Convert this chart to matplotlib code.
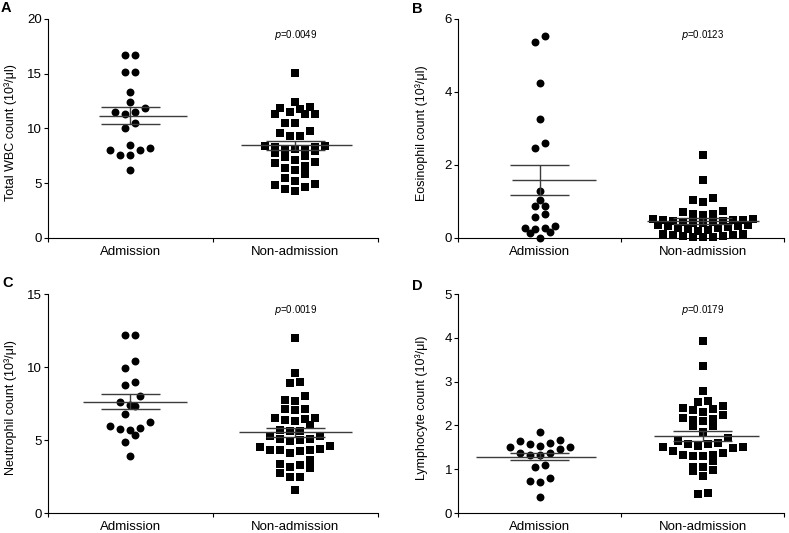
import numpy as np
import matplotlib.pyplot as plt

plt.rcParams['font.family'] = ['Liberation Sans', 'DejaVu Sans']

groups = ['Admission', 'Non-admission']

# values (10^3/ul)
wbc_adm = [16.72, 16.72, 15.19, 15.19, 13.31, 12.43, 11.91, 11.55, 11.55, 11.34,
           10.49, 10.0, 8.51, 8.05, 8.05, 8.21, 7.6, 7.6, 6.23]
wbc_non = [15.05, 12.46, 12.0, 11.76, 11.86, 11.34, 11.34, 11.55, 11.34, 10.54,
           10.54, 9.79, 9.58, 9.27, 9.27, 8.30, 8.12, 7.9, 8.42, 8.42,
           8.12, 8.12, 8.30, 7.51, 7.44, 7.75, 6.9, 6.53, 6.84, 7.14,
           6.23, 6.38, 5.86, 5.47, 4.95, 5.16, 4.65, 4.31, 4.47, 4.86]

eos_adm = [5.53, 5.37, 4.24, 3.26, 2.60, 2.46, 1.29, 1.05, 0.88, 0.88,
           0.66, 0.57, 0.27, 0.16, 0.34, 0.14, 0.25, 0.27, 0.0]
eos_non = [2.28, 1.60, 1.05, 0.99, 1.09, 0.75, 0.66, 0.63, 0.66, 0.70,
           0.40, 0.42, 0.44, 0.45, 0.46, 0.47, 0.48, 0.49, 0.50, 0.52, 0.53,
           0.20, 0.22, 0.24, 0.26, 0.28, 0.30, 0.32, 0.33, 0.35, 0.36,
           0.02, 0.03, 0.04, 0.05, 0.06, 0.08, 0.09, 0.10, 0.12]

neu_adm = [12.21, 12.21, 10.38, 9.93, 8.99, 8.79, 7.99, 7.58, 7.42, 7.30,
           6.80, 6.23, 5.82, 5.66, 5.75, 5.93, 5.36, 4.88, 3.90]
neu_non = [11.99, 9.59, 8.97, 8.90, 7.99, 7.76, 7.69, 7.03, 7.14, 7.14,
           6.27, 6.48, 6.34, 6.44, 6.48, 6.05, 5.70, 5.65, 5.60, 5.25,
           5.07, 4.90, 4.97, 5.07, 5.25, 4.56, 4.40, 4.34, 4.22, 4.11,
           4.34, 4.34, 4.52, 3.60, 3.31, 3.36, 3.08, 3.15, 2.74, 2.47,
           2.47, 1.55]

lym_adm = [1.85, 1.66, 1.64, 1.60, 1.58, 1.51, 1.51, 1.54, 1.46, 1.37,
           1.37, 1.33, 1.33, 1.05, 1.09, 0.74, 0.80, 0.70, 0.37]
lym_non = [3.93, 3.36, 2.79, 2.55, 2.53, 2.38, 2.36, 2.40, 2.44, 2.24,
           2.30, 2.15, 2.13, 2.17, 2.09, 1.98, 1.98, 1.86, 1.71, 1.65,
           1.58, 1.54, 1.51, 1.48, 1.51, 1.58, 1.60, 1.41, 1.33, 1.31,
           1.31, 1.33, 1.38, 1.18, 1.06, 1.06, 0.95, 0.99, 0.85, 0.44, 0.46]

# mean and SEM as drawn in the picture
wbc_mean, wbc_sem = [11.16, 8.45], [0.76, 0.40]
eos_mean, eos_sem = [1.60, 0.47], [0.41, 0.08]
neu_mean, neu_sem = [7.62, 5.52], [0.51, 0.28]
lym_mean, lym_sem = [1.29, 1.76], [0.09, 0.12]

p_values = ['0.0049', '0.0123', '0.0019', '0.0179']

panels = [
    dict(letter='A', data=(wbc_adm, wbc_non), mean=wbc_mean, sem=wbc_sem,
         ymax=20, step=5, ylabel='Total WBC count (10³/μl)',
         rect=[0.0608, 0.5535, 0.4179, 0.4109], lpos=(0.001, 0.999),
         mean_left=(0.19, 0.33), bin_px=9),
    dict(letter='B', data=(eos_adm, eos_non), mean=eos_mean, sem=eos_sem,
         ymax=6, step=2, ylabel='Eosinophil count (10³/μl)',
         rect=[0.5808, 0.5535, 0.4128, 0.4109], lpos=(0.522, 0.996),
         mean_left=(0.17, 0.34), bin_px=6),
    dict(letter='C', data=(neu_adm, neu_non), mean=neu_mean, sem=neu_sem,
         ymax=15, step=5, ylabel='Neutrophil count (10³/μl)',
         rect=[0.0608, 0.0375, 0.4179, 0.4109], lpos=(0.003, 0.482),
         mean_left=(0.29, 0.34), bin_px=9),
    dict(letter='D', data=(lym_adm, lym_non), mean=lym_mean, sem=lym_sem,
         ymax=5, step=1, ylabel='Lymphocyte count (10³/μl)',
         rect=[0.5808, 0.0375, 0.4128, 0.4109], lpos=(0.522, 0.476),
         mean_left=(0.39, 0.30), bin_px=9),
]

W, H, DPI = 7.89, 5.33, 100


def swarm_x(values, center, ppu_y, ppu_x, bin_px, step_px=10):
    # Prism-like column scatter: group close values into rows, spread rows centre-out
    vals = np.asarray(values, dtype=float)
    order = np.argsort(vals, kind='stable')
    xs = np.zeros(len(vals))
    i = 0
    while i < len(order):
        start = vals[order[i]]
        j = i
        while j < len(order) and (vals[order[j]] - start) * ppu_y < bin_px:
            j += 1
        members = order[i:j]
        slots = np.arange(len(members)) - (len(members) - 1) / 2
        slots = sorted(slots, key=lambda s: (abs(s), s))
        for m, s in zip(members, slots):
            xs[m] = center + s * step_px / ppu_x
        i = j
    return xs


fig = plt.figure(figsize=(W, H), dpi=DPI)
lc = '#3c3c3c'

for k, pn in enumerate(panels):
    ax = fig.add_axes(pn['rect'])
    ax.set_xlim(-0.5, 1.5)
    ax.set_ylim(0, pn['ymax'])
    ppu_y = pn['rect'][3] * H * DPI / pn['ymax']
    ppu_x = pn['rect'][2] * W * DPI / 2

    for g, vals in enumerate(pn['data']):
        xs = swarm_x(vals, g, ppu_y, ppu_x, pn['bin_px'])
        ax.plot(xs, vals, 'o' if g == 0 else 's', color='black',
                ms=5.7 if g == 0 else 5.9,
                mew=0, linestyle='none', clip_on=False, zorder=3)

        m, s = pn['mean'][g], pn['sem'][g]
        ax.hlines(m, g - pn['mean_left'][g], g + 0.345, color=lc, lw=1.0, zorder=4)
        ax.hlines([m - s, m + s], g - 0.18, g + 0.18, color=lc, lw=1.0, zorder=4)
        ax.vlines(g, m - s, m + s, color=lc, lw=1.0, zorder=4)

    ax.text(1.0, 0.928, '$\\it{p}$=' + p_values[k], transform=ax.get_xaxis_transform(),
            ha='center', va='center', fontsize=7)

    for side in ['top', 'right']:
        ax.spines[side].set_visible(False)
    for side in ['left', 'bottom']:
        ax.spines[side].set_linewidth(0.8)

    ax.set_yticks(np.arange(0, pn['ymax'] + 0.1, pn['step']))
    ax.tick_params(axis='y', direction='out', length=3, width=0.8, pad=1.5,
                   labelsize=9.5)
    ax.set_xticks([0, 1])
    ax.set_xticklabels(groups, fontsize=9.5)
    ax.set_xticks([-0.5, 0.5, 1.5], minor=True)
    ax.tick_params(axis='x', which='major', length=0, pad=6)
    ax.tick_params(axis='x', which='minor', direction='out', length=3, width=0.8)

    ax.set_ylabel(pn['ylabel'], fontsize=9)
    ax.yaxis.set_label_coords(-0.094, 0.48)

    fig.text(pn['lpos'][0], pn['lpos'][1], pn['letter'], fontsize=10.5,
             fontweight='bold', ha='left', va='top')

fig.savefig('out.png', dpi=DPI)
